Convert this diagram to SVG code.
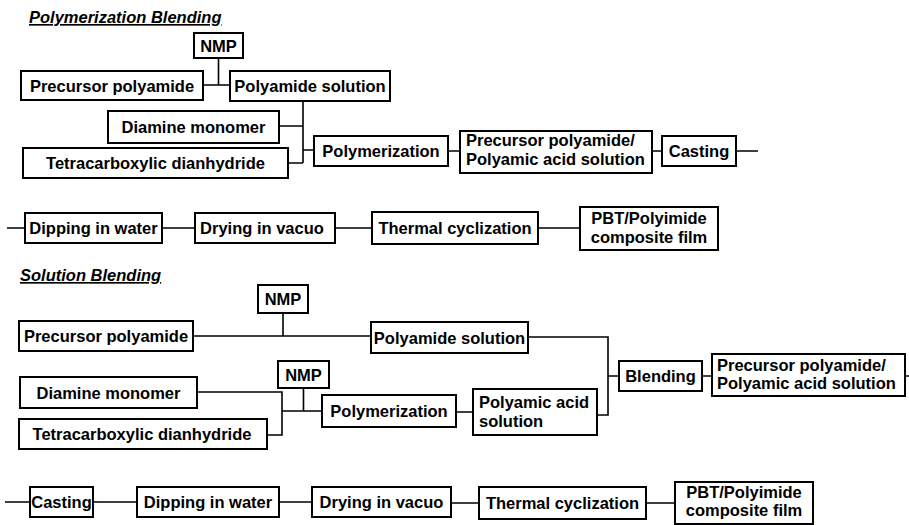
<svg xmlns="http://www.w3.org/2000/svg" width="909" height="525" viewBox="0 0 909 525">
<style>
.box{fill:#fff;stroke:#000;stroke-width:2}
.ln{fill:none;stroke:#000;stroke-width:1.6}
.t{font-family:"Liberation Sans",Arial,sans-serif;font-weight:bold;font-size:16.5px;text-anchor:middle;fill:#000}
.s{text-anchor:start}
.h{font-family:"Liberation Sans",Arial,sans-serif;font-weight:bold;font-style:italic;font-size:16.5px;text-decoration:underline;fill:#000}
</style>
<rect width="909" height="525" fill="#fff"/>
<text class="h" x="29" y="23">Polymerization  Blending</text>
<text class="h" x="20" y="281">Solution Blending</text>
<g id="connectors">
<path class="ln" d="M218.5,58V85M203,85H230M303,101V163M279,126H303M288,163H303M303,150H314M448,151H460M652,151H662M736,151H758M7,228H25M162,228H195M335,228H372M538,228H580"/>
<path class="ln" d="M283,313V336M193,336H371M528,337H608V415H597M608,376H619M702,376H712M905,376H909M197,392H282V435H267M303.5,388V411M282,411H322M456,412H473M5,502H30M93,502H137M279,502H312M451,503H479M646,503H675"/>
</g>
<g id="nmp1"><rect class="box" x="194" y="33" width="49" height="25"/><text class="t" x="218.5" y="51.5">NMP</text></g>
<g id="pp1"><rect class="box" x="21" y="71" width="182" height="29"/><text class="t" x="112" y="91.5">Precursor polyamide</text></g>
<g id="ps1"><rect class="box" x="230" y="71" width="160" height="30"/><text class="t" x="310" y="92">Polyamide solution</text></g>
<g id="dm1"><rect class="box" x="108" y="111" width="171" height="32"/><text class="t" x="193.5" y="133">Diamine  monomer</text></g>
<g id="td1"><rect class="box" x="23" y="148" width="265" height="30"/><text class="t" x="155.5" y="169">Tetracarboxylic  dianhydride</text></g>
<g id="pol1"><rect class="box" x="314" y="136" width="134" height="30"/><text class="t" x="381" y="157">Polymerization</text></g>
<g id="ppa1"><rect class="box" x="460" y="131" width="192" height="42"/><text class="t s" x="466" y="146">Precursor polyamide/</text><text class="t s" x="466" y="165">Polyamic acid solution</text></g>
<g id="cast1"><rect class="box" x="662" y="136" width="74" height="30"/><text class="t" x="699" y="157">Casting</text></g>
<g id="dip1"><rect class="box" x="25" y="213" width="137" height="30"/><text class="t" x="93.5" y="234">Dipping in water</text></g>
<g id="dry1"><rect class="box" x="195" y="213" width="140" height="30"/><text class="t" x="262" y="234">Drying in vacuo</text></g>
<g id="tc1"><rect class="box" x="372" y="212" width="166" height="32"/><text class="t" x="455" y="234">Thermal cyclization</text></g>
<g id="pbt1"><rect class="box" x="580" y="207" width="138" height="43"/><text class="t" x="649" y="224">PBT/Polyimide</text><text class="t" x="649" y="243">composite film</text></g>
<g id="nmp2"><rect class="box" x="258" y="285" width="50" height="28"/><text class="t" x="283" y="305">NMP</text></g>
<g id="pp2"><rect class="box" x="19" y="321" width="174" height="30"/><text class="t" x="106" y="342">Precursor polyamide</text></g>
<g id="ps2"><rect class="box" x="371" y="322" width="157" height="31"/><text class="t" x="449.5" y="343.5">Polyamide solution</text></g>
<g id="dm2"><rect class="box" x="20" y="377" width="177" height="31"/><text class="t" x="108.5" y="398.5">Diamine  monomer</text></g>
<g id="td2"><rect class="box" x="19" y="419" width="248" height="30"/><text class="t" x="142" y="440">Tetracarboxylic  dianhydride</text></g>
<g id="nmp3"><rect class="box" x="278" y="361" width="51" height="27"/><text class="t" x="303.5" y="380.5">NMP</text></g>
<g id="pol2"><rect class="box" x="322" y="395" width="134" height="32"/><text class="t" x="389" y="417">Polymerization</text></g>
<g id="pas2"><rect class="box" x="473" y="389" width="124" height="46"/><text class="t s" x="479" y="408">Polyamic acid</text><text class="t s" x="479" y="427">solution</text></g>
<g id="bl2"><rect class="box" x="619" y="361" width="83" height="30"/><text class="t" x="660.5" y="382">Blending</text></g>
<g id="ppa2"><rect class="box" x="712" y="354" width="193" height="42"/><text class="t s" x="717" y="371">Precursor polyamide/</text><text class="t s" x="717" y="389">Polyamic acid solution</text></g>
<g id="cast2"><rect class="box" x="30" y="487" width="63" height="30"/><text class="t" x="61.5" y="508">Casting</text></g>
<g id="dip2"><rect class="box" x="137" y="487" width="142" height="30"/><text class="t" x="208" y="508">Dipping in water</text></g>
<g id="dry2"><rect class="box" x="312" y="487" width="139" height="30"/><text class="t" x="381.5" y="508">Drying in vacuo</text></g>
<g id="tc2"><rect class="box" x="479" y="487" width="167" height="32"/><text class="t" x="562.5" y="509">Thermal cyclization</text></g>
<g id="pbt2"><rect class="box" x="675" y="482" width="138" height="42"/><text class="t" x="744" y="498">PBT/Polyimide</text><text class="t" x="744" y="516">composite film</text></g>
</svg>
